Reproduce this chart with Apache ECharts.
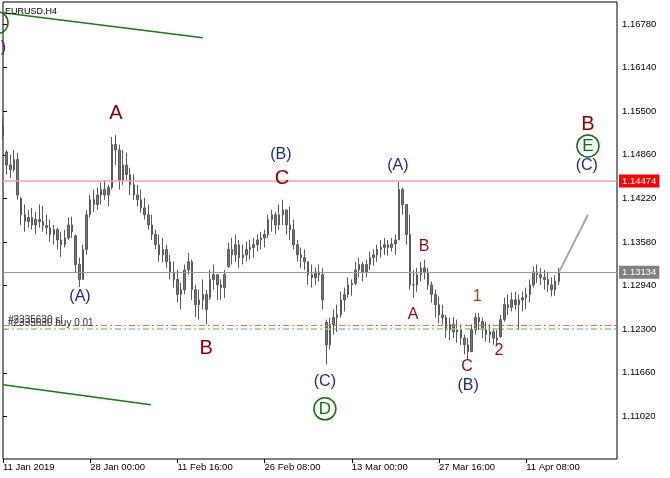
<!DOCTYPE html>
<html><head><meta charset="utf-8">
<script src="https://cdn.jsdelivr.net/npm/echarts@6/dist/echarts.min.js"></script>
<style>html,body{margin:0;padding:0;background:#fff}#c{width:670px;height:478px}</style>
</head><body><div id="c"></div>
<script>
// ---- data ----
const tickLabels = ['11 Jan 2019','28 Jan 00:00','11 Feb 16:00','26 Feb 08:00','13 Mar 00:00','27 Mar 16:00','11 Apr 08:00'];
const tickIndex = [0,24,48,72,96,120,144];
const slotCount = 170;
const priceTicks = [1.1102,1.1166,1.1230,1.1294,1.1358,1.1422,1.1486,1.1550,1.1614,1.1678];

const opens = [
1.1530,1.1490,1.1471,1.1464,1.1479,1.1422,1.1398,1.1388,1.1394,1.1383,
1.1391,1.1388,1.1382,1.1379,1.1369,1.1376,1.1361,1.1354,1.1364,1.1383,
1.1367,1.1325,1.1303,1.1347,1.1398,1.1420,1.1413,1.1427,1.1435,1.1427,
1.1438,1.1501,1.1493,1.1449,1.1471,1.1457,1.1442,1.1427,1.1420,1.1408,
1.1398,1.1383,1.1369,1.1354,1.1339,1.1347,1.1329,1.1314,1.1303,1.1281,
1.1288,1.1317,1.1329,1.1288,1.1266,1.1273,1.1281,1.1276,1.1303,1.1310,
1.1295,1.1291,1.1322,1.1347,1.1339,1.1354,1.1335,1.1339,1.1347,1.1350,
1.1354,1.1361,1.1364,1.1369,1.1391,1.1398,1.1383,1.1398,1.1405,1.1383,
1.1376,1.1354,1.1339,1.1335,1.1329,1.1310,1.1306,1.1314,1.1310,1.1240,
1.1207,1.1237,1.1247,1.1251,1.1273,1.1281,1.1295,1.1297,1.1317,1.1325,
1.1314,1.1325,1.1335,1.1339,1.1347,1.1350,1.1354,1.1350,1.1355,1.1361,
1.1435,1.1413,1.1369,1.1295,1.1295,1.1310,1.1320,1.1314,1.1295,1.1281,
1.1266,1.1251,1.1247,1.1229,1.1237,1.1226,1.1229,1.1217,1.1207,1.1197,
1.1229,1.1247,1.1241,1.1229,1.1222,1.1226,1.1217,1.1219,1.1244,1.1266,
1.1262,1.1273,1.1266,1.1273,1.1276,1.1281,1.1295,1.1314,1.1310,1.1306,
1.1303,1.1295,1.1288,1.1300];
const closes = [
1.1515,1.1471,1.1464,1.1479,1.1427,1.1398,1.1388,1.1394,1.1383,1.1391,
1.1388,1.1382,1.1379,1.1369,1.1376,1.1361,1.1354,1.1364,1.1383,1.1373,
1.1325,1.1303,1.1347,1.1398,1.1420,1.1413,1.1427,1.1435,1.1427,1.1438,
1.1501,1.1493,1.1449,1.1471,1.1457,1.1442,1.1427,1.1420,1.1408,1.1398,
1.1383,1.1369,1.1354,1.1339,1.1347,1.1329,1.1314,1.1303,1.1281,1.1288,
1.1317,1.1329,1.1288,1.1266,1.1273,1.1281,1.1259,1.1303,1.1310,1.1295,
1.1291,1.1310,1.1347,1.1339,1.1354,1.1335,1.1339,1.1347,1.1350,1.1354,
1.1361,1.1364,1.1369,1.1391,1.1398,1.1383,1.1398,1.1405,1.1383,1.1376,
1.1354,1.1339,1.1335,1.1329,1.1310,1.1306,1.1314,1.1310,1.1273,1.1207,
1.1237,1.1247,1.1251,1.1273,1.1281,1.1295,1.1297,1.1317,1.1325,1.1314,
1.1325,1.1335,1.1339,1.1347,1.1350,1.1354,1.1350,1.1355,1.1361,1.1435,
1.1413,1.1369,1.1295,1.1295,1.1310,1.1320,1.1314,1.1295,1.1281,1.1266,
1.1251,1.1247,1.1229,1.1237,1.1226,1.1229,1.1217,1.1207,1.1197,1.1229,
1.1247,1.1241,1.1229,1.1222,1.1226,1.1217,1.1214,1.1244,1.1266,1.1262,
1.1273,1.1266,1.1273,1.1276,1.1281,1.1295,1.1314,1.1310,1.1306,1.1303,
1.1295,1.1288,1.1300,1.13134];
const highs = [
1.1542,1.1493,1.1486,1.1493,1.1489,1.1424,1.1413,1.1405,1.1408,1.1402,
1.1413,1.1411,1.1398,1.1391,1.1383,1.1379,1.1373,1.1376,1.1394,1.1395,
1.1369,1.1335,1.1354,1.1405,1.1427,1.1435,1.1438,1.1445,1.1449,1.1442,
1.1512,1.1515,1.1501,1.1493,1.1489,1.1467,1.1457,1.1442,1.1435,1.1423,
1.1413,1.1398,1.1376,1.1369,1.1364,1.1354,1.1339,1.1329,1.1317,1.1298,
1.1325,1.1342,1.1332,1.1295,1.1288,1.1303,1.1288,1.1317,1.1325,1.1310,
1.1303,1.1317,1.1357,1.1364,1.1369,1.1361,1.1354,1.1358,1.1361,1.1364,
1.1369,1.1373,1.1376,1.1398,1.1405,1.1402,1.1413,1.1420,1.1405,1.1410,
1.1391,1.1361,1.1350,1.1347,1.1329,1.1325,1.1320,1.1325,1.1320,1.1244,
1.1247,1.1259,1.1266,1.1285,1.1291,1.1306,1.1303,1.1329,1.1335,1.1329,
1.1332,1.1344,1.1347,1.1354,1.1361,1.1364,1.1361,1.1364,1.1369,1.1446,
1.1438,1.1413,1.1398,1.1317,1.1320,1.1329,1.1332,1.1320,1.1300,1.1288,
1.1278,1.1266,1.1251,1.1247,1.1248,1.1244,1.1237,1.1222,1.1217,1.1237,
1.1254,1.1254,1.1247,1.1241,1.1237,1.1232,1.1229,1.1251,1.1276,1.1281,
1.1284,1.1285,1.1281,1.1285,1.1291,1.1303,1.1322,1.1325,1.1320,1.1317,
1.1314,1.1306,1.1309,1.1320];
const lows = [
1.1508,1.1457,1.1452,1.1461,1.1420,1.1383,1.1373,1.1379,1.1376,1.1369,
1.1379,1.1373,1.1369,1.1358,1.1354,1.1347,1.1336,1.1350,1.1361,1.1364,
1.1314,1.1292,1.1303,1.1339,1.1394,1.1402,1.1405,1.1413,1.1420,1.1410,
1.1435,1.1471,1.1435,1.1442,1.1449,1.1427,1.1420,1.1410,1.1401,1.1391,
1.1376,1.1361,1.1347,1.1329,1.1328,1.1320,1.1303,1.1291,1.1269,1.1259,
1.1281,1.1310,1.1273,1.1248,1.1244,1.1259,1.1237,1.1273,1.1288,1.1273,
1.1273,1.1276,1.1320,1.1325,1.1329,1.1320,1.1325,1.1329,1.1332,1.1335,
1.1344,1.1347,1.1350,1.1364,1.1373,1.1369,1.1376,1.1383,1.1369,1.1361,
1.1347,1.1329,1.1320,1.1317,1.1295,1.1291,1.1295,1.1300,1.1259,1.1178,
1.1200,1.1222,1.1226,1.1247,1.1256,1.1276,1.1279,1.1295,1.1306,1.1300,
1.1306,1.1317,1.1323,1.1329,1.1335,1.1339,1.1338,1.1344,1.1339,1.1361,
1.1398,1.1354,1.1288,1.1276,1.1285,1.1300,1.1303,1.1288,1.1269,1.1247,
1.1239,1.1237,1.1217,1.1214,1.1217,1.1210,1.1207,1.1193,1.1185,1.1197,
1.1222,1.1229,1.1217,1.1212,1.1210,1.1207,1.1207,1.1217,1.1241,1.1251,
1.1256,1.1259,1.1229,1.1256,1.1259,1.1269,1.1291,1.1298,1.1295,1.1288,
1.1285,1.1278,1.1279,1.1295];

const bidPrice = 1.13134;
const alertPrice = 1.14474;
const slPrice = 1.12362;
const buyPrice = 1.12308;
const upperTrend = [[0, 1.16945], [55, 1.16578]];
const lowerTrend = [[0, 1.11484], [40.7, 1.11191]];
const projection = [[153, 1.13134], [161, 1.1398]];

const waveText = ['A','(A)','B','(B)','C','(C)','D','(A)','B','A','C','(B)','1','2','B','E','(C)','','(C)'];
const waveX    = [31.1,21.2,55.9,76.5,76.8,88.6,88.6,108.7,115.9,112.9,127.7,128.0,130.5,136.5,161.0,161.0,160.7,-1.65,-2.2];
const waveY    = [1.1546,1.1278,1.1201,1.1486,1.1451,1.1153,1.1113,1.1470,1.1351,1.1251,1.1175,1.1147,1.1278,1.1198,1.1530,1.1499,1.1470,1.1680,1.1643];
const waveKind = ['big','blue','big','blue','big','blue','circle','blue','small','small','small','blue','one','small','big','circle','blue','circle','blue'];

// ---- chart ----
const FONT = 'Liberation Sans, Arial, sans-serif';
const categories = [];
for (let i = 0; i < slotCount; i++) {
  const k = tickIndex.indexOf(i);
  categories.push(k >= 0 ? tickLabels[k] : '');
}
const showTick = (idx) => tickIndex.indexOf(idx) >= 0;
const candles = opens.map((o, i) => [o, closes[i], lows[i], highs[i]]);

const kindStyle = {
  big:    { fontSize: 20, color: '#8b0000' },
  small:  { fontSize: 16, color: '#8b1010' },
  one:    { fontSize: 16, color: '#a8400c' },
  blue:   { fontSize: 16, color: '#1f2a8a' },
  circle: { fontSize: 17, color: '#137013' }
};
const waveData = waveText.map((t, i) => {
  const st = kindStyle[waveKind[i]];
  const isCircle = waveKind[i] === 'circle';
  return {
    name: t,
    value: [waveX[i], waveY[i]],
    symbol: 'circle',
    symbolSize: isCircle ? 22 : 1,
    itemStyle: isCircle
      ? { color: 'rgba(0,0,0,0)', borderColor: '#137013', borderWidth: 1.5, opacity: 1 }
      : { color: 'rgba(0,0,0,0)', opacity: 1 },
    label: { show: true, position: 'inside', formatter: '{b}', fontSize: st.fontSize, color: st.color, fontFamily: FONT, textBorderWidth: 0 }
  };
});

const chart = echarts.init(document.getElementById('c'), null, { renderer: 'canvas' });
chart.setOption({
  animation: false,
  backgroundColor: '#ffffff',
  title: { text: 'EURUSD,H4', left: 0, top: 2, textStyle: { fontSize: 9, fontWeight: 'normal', color: '#000', fontFamily: FONT } },
  grid: { left: 3, right: 53, top: 2, bottom: 19, show: true, borderColor: '#000', borderWidth: 1, backgroundColor: 'transparent' },
  xAxis: [
    {
      type: 'category', data: categories, boundaryGap: false,
      axisLine: { show: false },
      axisTick: { show: true, interval: showTick, length: 4, lineStyle: { color: '#000' } },
      axisLabel: { interval: showTick, align: 'left', fontSize: 9.5, color: '#000', margin: 3, fontFamily: FONT },
      splitLine: { show: false }
    },
    { type: 'value', min: 0, max: slotCount - 1, show: false }
  ],
  yAxis: {
    type: 'value', position: 'right', min: 1.10394, max: 1.17103, scale: true,
    axisLine: { show: false },
    axisTick: { show: true, customValues: priceTicks, length: 4, lineStyle: { color: '#000' } },
    axisLabel: { customValues: priceTicks, formatter: v => v.toFixed(5), fontSize: 9.5, color: '#000', margin: 5, fontFamily: FONT },
    splitLine: { show: false }
  },
  series: [
    {
      type: 'candlestick', xAxisIndex: 0, data: candles, barWidth: 2,
      itemStyle: { color: '#777', color0: '#777', borderColor: '#5a5a5a', borderColor0: '#5a5a5a', borderWidth: 1 },
      z: 3,
      markLine: {
        silent: true, symbol: 'none', animation: false, precision: 5,
        data: [
          { yAxis: alertPrice, lineStyle: { color: '#f5a3a3', width: 1.5, type: 'solid' },
            label: { show: true, position: 'end', formatter: alertPrice.toFixed(5), color: '#fff', backgroundColor: '#ff0000', padding: [2, 3, 1, 3], fontSize: 9.5, distance: 2, fontFamily: FONT } },
          { yAxis: bidPrice, lineStyle: { color: '#9a9a9a', width: 1, type: 'solid' },
            label: { show: true, position: 'end', formatter: bidPrice.toFixed(5), color: '#fff', backgroundColor: '#808080', padding: [2, 3, 1, 3], fontSize: 9.5, distance: 2, fontFamily: FONT } },
          { yAxis: slPrice, lineStyle: { color: '#f06a4a', width: 1, type: [6, 3, 2, 3] },
            label: { show: true, position: 'insideStartTop', formatter: '#2335630 sl', color: '#333', fontSize: 10, distance: [5, 0], fontFamily: FONT } },
          { yAxis: buyPrice, lineStyle: { color: '#8fcf8f', width: 1.5, type: [6, 3, 2, 3] },
            label: { show: true, position: 'insideStartTop', formatter: '#2335630 buy 0.01', color: '#333', fontSize: 10, distance: [5, 0], fontFamily: FONT } }
        ]
      }
    },
    { type: 'line', xAxisIndex: 1, data: upperTrend, symbol: 'none', lineStyle: { color: '#1a7a1a', width: 1.5 }, z: 4, silent: true },
    { type: 'line', xAxisIndex: 1, data: lowerTrend, symbol: 'none', lineStyle: { color: '#1a7a1a', width: 1.5 }, z: 4, silent: true },
    { type: 'line', xAxisIndex: 1, data: projection, symbol: 'none', lineStyle: { color: '#a8a8a8', width: 2 }, z: 4, silent: true },
    { type: 'scatter', xAxisIndex: 1, data: waveData, clip: false, silent: true, z: 6, itemStyle: { opacity: 1 } }
  ]
});
</script>
</body></html>
